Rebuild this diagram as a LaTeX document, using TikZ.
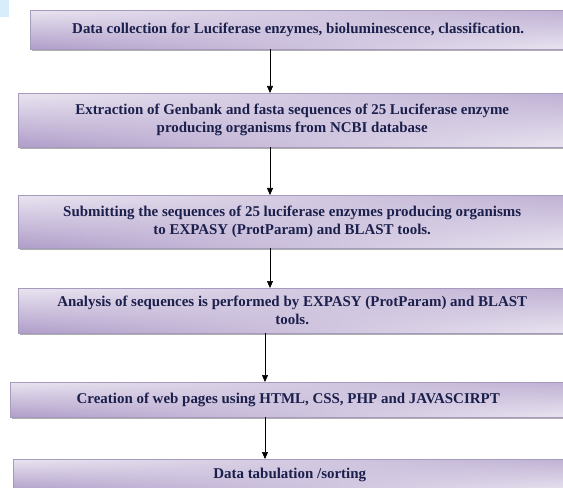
\documentclass[tikz,border=0pt]{standalone}
\usepackage{fontspec}
\setmainfont{Liberation Serif}
\usepackage{tikz}
\usetikzlibrary{arrows.meta,shadows,shadings}
\definecolor{boxlight}{HTML}{E9E4F0}
\definecolor{boxdark}{HTML}{AF9DC9}
\definecolor{boxline}{HTML}{A69ABD}
\definecolor{boxtext}{HTML}{1B1F4B}
\definecolor{cornerblue}{HTML}{D8EDFB}

\begin{document}
\begin{tikzpicture}[x=1bp,y=-1bp]
	\tikzset{stepbox/.style={anchor=north west,inner sep=0pt,align=center,
	    font=\fontsize{15}{18}\selectfont\bfseries,text=boxtext,
	    draw=boxline,line width=.4bp,shade,
	    upper left=boxlight,upper right=boxdark!80,
	    lower left=boxdark,lower right=boxlight,
	    drop shadow={shadow xshift=1.5bp,shadow yshift=-2bp,fill=gray!70,opacity=.9}}}
	\tikzset{arr/.style={-{Triangle[length=7bp,width=6bp]},line width=.6bp}}
	\useasboundingbox (0,0) rectangle (563,488);
	\clip (0,0) rectangle (563,488);
	\fill[cornerblue] (0,0) rectangle (9,17);

	% boxes
	\node[stepbox,minimum width=536bp,minimum height=39bp] (b1) at (30,10)
	    {Data collection for Luciferase enzymes, bioluminescence, classification.};
	\node[stepbox,minimum width=548bp,minimum height=54bp] (b2) at (18,93)
	    {Extraction of Genbank and fasta sequences of 25 Luciferase enzyme\\ producing organisms from NCBI database};
	\node[stepbox,minimum width=548bp,minimum height=53bp] (b3) at (18,195)
	    {Submitting the sequences of 25 luciferase enzymes producing organisms\\ to EXPASY (ProtParam) and BLAST tools.};
	\node[stepbox,minimum width=548bp,minimum height=45bp] (b4) at (18,288)
	    {Analysis of sequences is performed by EXPASY (ProtParam) and BLAST\\ tools.};
	\node[stepbox,minimum width=556bp,minimum height=35bp] (b5) at (10,382)
	    {Creation of web pages using HTML, CSS, PHP and JAVASCIRPT};
	\node[stepbox,minimum width=553bp,minimum height=32bp] (b6) at (13,459)
	    {Data tabulation /sorting};

	% arrows
	\coordinate (ax) at (270,0);
	\coordinate (bx) at (265,0);
	\draw[arr] (b1.south -| ax) -- (b2.north -| ax);
	\draw[arr] (b2.south -| ax) -- (b3.north -| ax);
	\draw[arr] (b3.south -| ax) -- (b4.north -| ax);
	\draw[arr] (b4.south -| bx) -- (b5.north -| bx);
	\draw[arr] (b5.south -| bx) -- (b6.north -| bx);
\end{tikzpicture}
\end{document}
